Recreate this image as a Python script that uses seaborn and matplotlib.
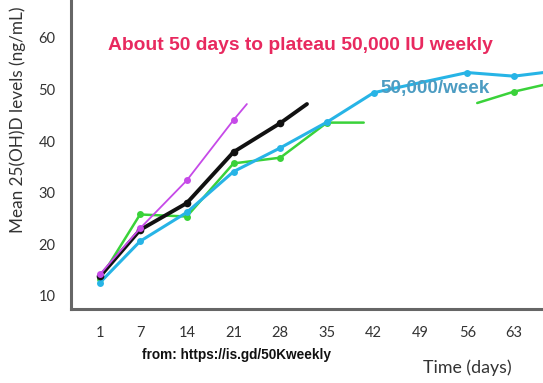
import matplotlib
matplotlib.use("Agg")
import matplotlib.pyplot as plt
import seaborn as sns
import pandas as pd

# ---- data ----
days_ticks = [1, 7, 14, 21, 28, 35, 42, 49, 56, 63]
y_ticks = [10, 20, 30, 40, 50, 60]

magenta_x = [1, 7, 14, 21, 23.0]
magenta_y = [14.2, 23.1, 32.4, 44.1, 47.2]

black_x = [1, 7, 14, 21, 28, 32.0]
black_y = [13.8, 22.8, 28.0, 37.9, 43.5, 47.2]

blue_x = [1, 7, 14, 21, 28, 35, 42, 56, 63, 67.4]
blue_y = [12.6, 20.6, 26.2, 34.1, 38.7, 43.7, 49.4, 53.3, 52.6, 53.3]

green_a_x = [1, 7, 14, 21, 28, 35, 40.5]
green_a_y = [13.3, 25.8, 25.4, 35.7, 36.8, 43.6, 43.6]

green_b_x = [57.5, 63, 67.4]
green_b_y = [47.4, 49.6, 50.9]

title_text = "About 50 days to plateau 50,000 IU weekly"
series_label = "50,000/week"
source_text = "from: https://is.gd/50Kweekly"
x_label = "Time (days)"
y_label = "Mean 25(OH)D levels (ng/mL)"

# ---- figure ----
sns.set_theme(style="white")
plt.rcParams["font.family"] = ["Lato", "DejaVu Sans"]

W, H = 543, 383
fig = plt.figure(figsize=(W / 100, H / 100), dpi=100)
ax = fig.add_axes([71 / W, (H - 309) / H, (W - 71) / W, 309 / H])

def draw(xs, ys, color, lw, ms, marks):
    df = pd.DataFrame({"x": xs, "y": ys})
    sns.lineplot(data=df, x="x", y="y", ax=ax, color=color, linewidth=lw,
                 marker="o", markersize=ms, markeredgewidth=0,
                 markevery=marks, estimator=None, sort=False)

draw(green_a_x, green_a_y, "#3ad23a", 1.8, 5, list(range(6)))
draw(green_b_x, green_b_y, "#3ad23a", 1.8, 5, [1])
draw(blue_x, blue_y, "#27b4e6", 2.2, 5, list(range(9)))
draw(black_x, black_y, "#111111", 2.8, 5.5, list(range(5)))
draw(magenta_x, magenta_y, "#c64ae8", 1.3, 5, list(range(4)))

ax.set_xlim(-3.34, 67.35)
ax.set_ylim(7.48, 67.36)
ax.set_xticks(days_ticks)
ax.set_xticklabels([str(d) for d in days_ticks])
ax.set_yticks(y_ticks)
ax.set_yticklabels([str(v) for v in y_ticks])
ax.set_xlabel("")
ax.set_ylabel("")

for s in ["top", "right"]:
    ax.spines[s].set_visible(False)
for s in ["left", "bottom"]:
    ax.spines[s].set_color("#666666")
    ax.spines[s].set_linewidth(2.2)

ax.tick_params(axis="both", which="major", direction="out", length=6,
               width=1.8, color="#666666", labelsize=10.5,
               labelcolor="#333333", pad=5)
ax.tick_params(axis="x", pad=6)

fig.text(108 / W, 1 - 45 / H, title_text, color="#e8295f", fontsize=13.9,
         fontweight="bold", family=["Liberation Sans", "DejaVu Sans"],
         ha="left", va="center")
fig.text(380 / W, 1 - 89 / H, series_label, color="#4c9cc2", fontsize=13.6,
         fontweight="bold", family=["Liberation Sans", "DejaVu Sans"],
         ha="left", va="center")
fig.text(142 / W, 1 - 355 / H, source_text, color="#111111", fontsize=9.8,
         fontweight="bold", family=["Liberation Sans", "DejaVu Sans"],
         ha="left", va="center")
fig.text(423 / W, 1 - 368 / H, x_label, color="#333333", fontsize=12.8,
         ha="left", va="center")
fig.text(18 / W, 1 - 120 / H, y_label, color="#333333", fontsize=12.3,
         rotation=90, ha="center", va="center")

fig.savefig("out.png", dpi=100)
